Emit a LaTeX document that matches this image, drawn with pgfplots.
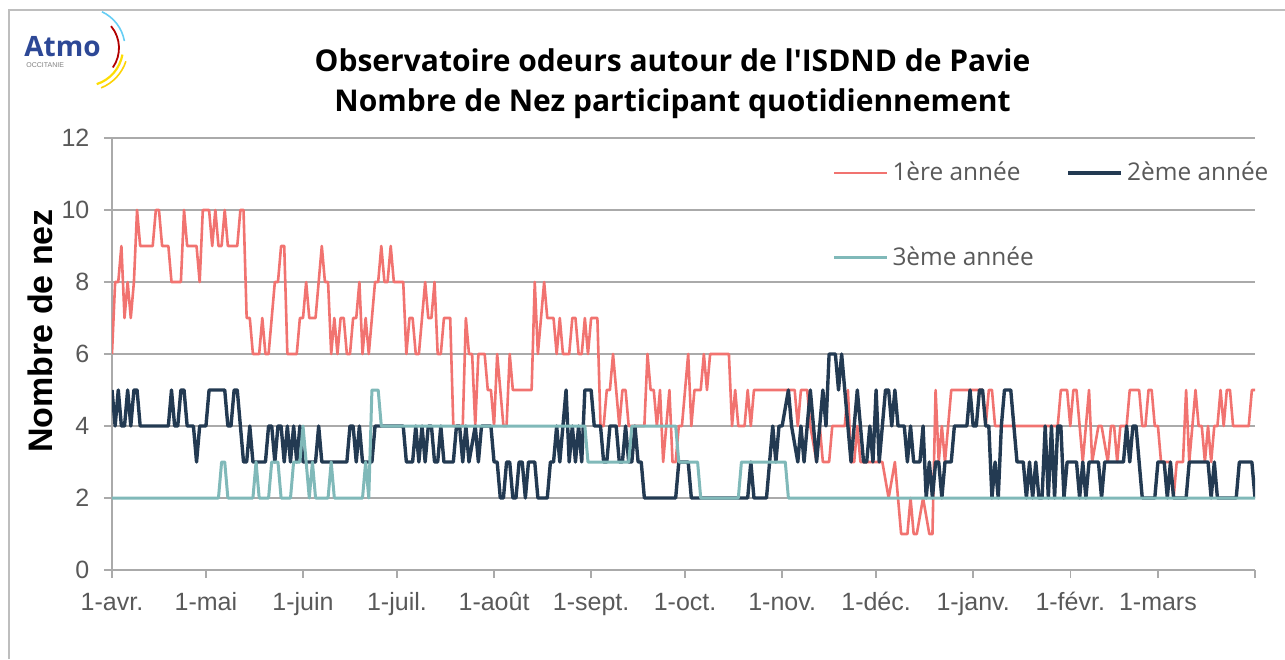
\documentclass[border=0pt]{standalone}
\usepackage{fontspec}
\setmainfont{Liberation Sans}
\newfontfamily\osans{Open Sans}[Ligatures=TeXOff]
\usepackage{pgfplots}
\pgfplotsset{compat=1.18}
\definecolor{cred}{RGB}{241,115,112}
\definecolor{cdark}{RGB}{35,58,82}
\definecolor{cteal}{RGB}{128,185,185}
\definecolor{cgrid}{RGB}{170,170,170}
\definecolor{clab}{RGB}{89,89,89}
\definecolor{cframe}{RGB}{190,190,190}
\definecolor{atmoblue}{RGB}{45,72,150}
\begin{document}
\begin{tikzpicture}
\begin{scope}[x=0.5pt,y=-0.5pt,yshift=329.5pt]
 \draw[cframe,line width=0.6pt] (9,659) -- (9,10) -- (1285,10);
 \node[font=\osans\bfseries\fontsize{15pt}{18pt}\selectfont] at (672.5,60) {Observatoire odeurs autour de l'ISDND de Pavie};
 \node[font=\osans\bfseries\fontsize{15pt}{18pt}\selectfont] at (672.5,104) {Nombre de Nez participant quotidiennement};
 \node[rotate=90, font=\bfseries\fontsize{17pt}{20pt}\selectfont] at (40,331) {Nombre de nez};
 \node[anchor=base west, font=\osans\bfseries\fontsize{14pt}{15pt}\selectfont, text=atmoblue, inner sep=0] at (24,57) {Atmo};
 \node[anchor=base west, font=\fontsize{3.5pt}{4pt}\selectfont, text=gray, inner sep=0] at (26,68) {OCCITANIE};
\end{scope}
\begin{scope}[shift={(42.5pt,305.5pt)}]
 \draw[cyan!60!white, line width=0.8pt] (65:20pt) arc[start angle=65, end angle=10, radius=20pt];
 \draw[red!70!black, line width=0.9pt] (40:17pt) arc[start angle=40, end angle=-35, radius=17pt];
 \draw[yellow!80!orange, line width=1.1pt] (-10:19pt) arc[start angle=-10, end angle=-72, radius=19pt];
 \draw[yellow!70!orange, line width=0.8pt] (-18:21.5pt) arc[start angle=-18, end angle=-68, radius=21.5pt];
\end{scope}
\begin{axis}[
 at={(56pt,44.5pt)}, anchor=south west,
 scale only axis, width=571.5pt, height=216pt,
 xmin=0, xmax=365, ymin=0, ymax=12,
 ytick={0,2,4,6,8,10,12},
 xtick={0,30,61,91,122,153,183,214,244,275,306,334,365},
 xticklabels={1-avr.,1-mai,1-juin,1-juil.,1-août,1-sept.,1-oct.,1-nov.,1-déc.,1-janv.,1-févr.,1-mars,{}},
 axis x line*=bottom, axis y line*=left,
 axis line style={cgrid, line width=0.75pt, -},
 ymajorgrids, grid style={cgrid, line width=0.75pt},
 tick align=outside, major tick length=4pt,
 tick style={cgrid, line width=0.75pt},
 ticklabel style={font=\fontsize{12.5pt}{15pt}\selectfont, text=clab},
 xticklabel style={text height=9pt, text depth=2.5pt, yshift=-3.5pt},
 yticklabel style={xshift=-3.8pt},
 /pgf/number format/assume math mode=true,
 legend columns=2,
 legend cell align=left,
 legend style={at={(0.630,0.821)}, anchor=west, draw=none, fill=none, inner sep=0pt,
   font=\osans\fontsize{12.2pt}{14pt}\selectfont, text=clab, row sep=27.5pt,
   /tikz/every even column/.append style={column sep=14.5pt}},
 legend image code/.code={\draw[#1] (0pt,0pt) -- (26.5pt,0pt);},
]
\addplot[cred, line width=1.3pt, line join=round] coordinates {
(0,6)(1,8)(2,8)(3,9)(4,7)(5,8)(6,7)(7,8)(8,10)(9,9)(13,9)(14,10)(15,10)(16,9)(18,9)(19,8)(22,8)(23,10)(24,9)(27,9)(28,8)(29,10)(31,10)(32,9)(33,10)(34,9)(35,9)(36,10)(37,9)(40,9)(41,10)(42,10)(43,7)(44,7)(45,6)(47,6)(48,7)(49,6)(50,6)(51,7)(52,8)(53,8)(54,9)(55,9)(56,6)(59,6)(60,7)(61,7)(62,8)(63,7)(65,7)(66,8)(67,9)(68,8)(69,8)(70,6)(71,7)(72,6)(73,7)(74,7)(75,6)(76,6)(77,7)(78,7)(79,8)(80,6)(81,7)(82,6)(83,7)(84,8)(85,8)(86,9)(87,8)(88,8)(89,9)(90,8)(93,8)(94,6)(95,7)(96,7)(97,6)(98,6)(99,7)(100,8)(101,7)(102,7)(103,8)(104,6)(105,6)(106,7)(108,7)(109,4)(112,4)(113,7)(114,6)(115,6)(116,4)(117,6)(119,6)(120,5)(121,5)(122,4)(123,6)(124,5)(125,4)(126,4)(127,6)(128,5)(134,5)(135,8)(136,6)(137,7)(138,8)(139,7)(141,7)(142,6)(143,7)(144,6)(146,6)(147,7)(148,7)(149,6)(150,6)(151,7)(152,6)(153,7)(155,7)(156,4)(157,4)(158,5)(159,5)(160,6)(161,5)(162,4)(163,5)(164,5)(165,4)(170,4)(171,6)(172,5)(173,5)(174,4)(175,5)(176,3)(177,4)(178,5)(179,3)(180,3)(181,4)(182,4)(184,6)(185,4)(186,5)(188,5)(189,6)(190,5)(191,6)(197,6)(198,4)(199,5)(200,4)(202,4)(203,5)(204,4)(205,5)(218,5)(219,4)(220,5)(222,5)(223,4)(225,3)(226,4)(227,3)(229,3)(230,4)(234,4)(235,5)(236,3)(237,3)(238,4)(239,3)(246,3)(248,2)(250,3)(252,1)(254,1)(255,2)(256,1)(257,1)(259,2)(261,1)(262,1)(263,5)(264,3)(265,4)(266,3)(267,4)(268,5)(278,5)(279,4)(280,5)(281,5)(282,4)(302,4)(303,5)(305,5)(306,4)(307,5)(308,5)(310,3)(312,5)(313,3)(315,4)(316,4)(318,3)(319,4)(320,4)(321,3)(322,4)(324,4)(325,5)(328,5)(329,4)(330,4)(331,5)(332,5)(333,4)(334,4)(335,3)(338,3)(339,2)(340,3)(342,3)(343,5)(344,3)(346,5)(347,4)(348,4)(349,3)(350,4)(351,3)(352,4)(353,4)(354,5)(355,4)(356,5)(357,5)(358,4)(363,4)(364,5)(365,5)
};
\addlegendentry{1ère année}
\addplot[cdark, line width=1.7pt, line join=round] coordinates {
(0,5)(1,4)(2,5)(3,4)(4,4)(5,5)(6,4)(7,5)(8,5)(9,4)(18,4)(19,5)(20,4)(21,4)(22,5)(23,5)(24,4)(26,4)(27,3)(28,4)(30,4)(31,5)(36,5)(37,4)(38,4)(39,5)(40,5)(41,4)(42,3)(43,3)(44,4)(45,3)(49,3)(50,4)(51,4)(52,3)(53,4)(54,4)(55,3)(56,4)(57,3)(58,4)(59,3)(60,4)(61,3)(65,3)(66,4)(67,3)(75,3)(76,4)(77,4)(78,3)(79,4)(80,3)(83,3)(84,4)(93,4)(94,3)(96,3)(97,4)(98,3)(99,4)(100,3)(101,4)(102,4)(103,3)(104,3)(105,4)(106,3)(109,3)(110,4)(111,4)(112,3)(113,4)(114,3)(116,4)(117,3)(118,4)(121,4)(122,3)(123,3)(124,2)(125,2)(126,3)(127,3)(128,2)(129,2)(130,3)(131,3)(132,2)(133,3)(135,3)(136,2)(139,2)(140,3)(141,3)(142,4)(143,3)(145,5)(146,3)(147,4)(148,3)(149,4)(150,3)(151,5)(153,5)(154,4)(156,4)(157,3)(158,3)(159,4)(161,4)(162,3)(163,3)(164,4)(165,3)(166,3)(167,4)(168,3)(169,3)(170,2)(180,2)(181,3)(184,3)(185,2)(203,2)(204,3)(205,2)(209,2)(210,3)(211,4)(212,3)(213,4)(214,4)(216,5)(217,4)(219,3)(220,4)(221,3)(223,5)(225,3)(227,5)(228,4)(229,6)(231,6)(232,5)(233,6)(234,5)(235,4)(236,3)(237,4)(238,5)(239,4)(240,3)(241,3)(242,4)(243,3)(244,5)(245,3)(246,4)(247,5)(248,5)(249,4)(250,5)(251,4)(253,4)(254,3)(255,4)(256,3)(258,3)(259,4)(260,2)(261,3)(262,2)(263,3)(264,3)(265,2)(266,3)(268,3)(269,4)(273,4)(274,5)(275,4)(276,4)(277,5)(278,5)(279,4)(280,4)(281,2)(282,3)(283,2)(284,4)(285,5)(287,5)(288,4)(289,3)(291,3)(292,2)(293,3)(294,2)(295,3)(296,2)(297,2)(298,4)(299,2)(300,4)(301,2)(302,4)(303,4)(304,2)(305,3)(308,3)(309,2)(310,3)(311,2)(312,3)(315,3)(316,2)(317,3)(323,3)(324,4)(325,3)(326,4)(327,4)(328,3)(329,2)(333,2)(334,3)(336,3)(337,2)(338,3)(339,2)(343,2)(344,3)(350,3)(351,2)(352,3)(353,2)(359,2)(360,3)(364,3)(365,2)
};
\addlegendentry{2ème année}
\addplot[cteal, line width=1.5pt, line join=round] coordinates {
(0,2)(34,2)(35,3)(36,3)(37,2)(45,2)(46,3)(47,2)(50,2)(51,3)(53,3)(54,2)(57,2)(58,3)(60,3)(61,4)(62,3)(63,2)(64,3)(65,2)(69,2)(70,3)(71,2)(80,2)(81,3)(82,2)(83,5)(85,5)(86,4)(151,4)(152,3)(165,3)(166,4)(180,4)(181,3)(187,3)(188,2)(200,2)(201,3)(215,3)(216,2)(365,2)
};
\addlegendentry{3ème année}
\end{axis}
\pgfresetboundingbox
\path[use as bounding box] (0,0) rectangle (642.5pt,329.5pt);
\end{tikzpicture}
\end{document}
